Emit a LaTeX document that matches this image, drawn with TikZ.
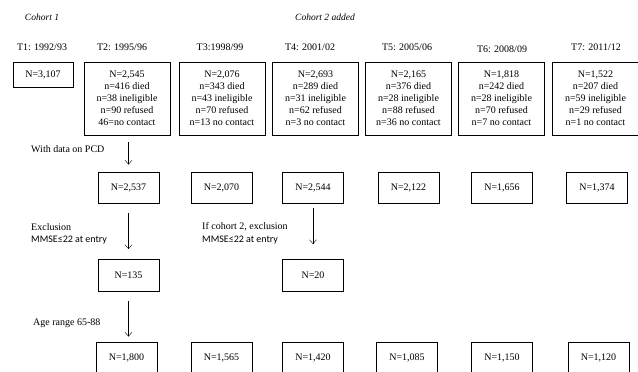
\documentclass[tikz,border=0pt]{standalone}
\usepackage{fontspec}
\setmainfont{Liberation Serif}
\newfontfamily\calibri{Carlito}
\usetikzlibrary{arrows.meta, positioning}
\tikzset{
    -{Straight Barb[length=4pt,width=7pt]}, line width=0.6pt,
    box/.style ={rectangle, draw, line width=0.9pt, minimum width=61pt, minimum height=31pt},
    bigbox/.style ={rectangle, draw, line width=0.9pt, align=center, minimum width=86pt, minimum height=73pt},
    note/.style = {anchor=west, inner sep=0pt, align=left},
    cohort/.style = {inner sep=0pt, font=\itshape\fontsize{9.5}{11}\selectfont}
    }

\begin{document}
\begin{tikzpicture}[
      x = 1pt, y = -1pt, % pixel grid, y down
      every node/.append style = {font=\fontsize{10}{12}\selectfont}
    ]
    \clip (0,0) rectangle (638,372);

    \node[cohort] at (42,17) {Cohort 1};
    \node[cohort] at (325,17) {Cohort 2 added};

    % time points
    \node[inner sep=0pt] at (42,47) {T1: 1992/93};
    \node[inner sep=0pt] at (122,47) {T2: 1995/96};
    \node[inner sep=0pt] at (220,47) {T3:1998/99};
    \node[inner sep=0pt] at (310,47) {T4: 2001/02};
    \node[inner sep=0pt] at (407,47) {T5: 2005/06};
    \node[inner sep=0pt] at (502,49) {T6: 2008/09};
    \node[inner sep=0pt] at (596,47) {T7: 2011/12};

    % follow-up
    \node[box, minimum width=60pt, minimum height=25pt] (1) at (43,74.5) {N=3,107};
    \node[bigbox] (2) at (127,98.5) {N=2,545\\n=416 died\\n=38 ineligible\\n=90 refused\\46=no contact};
    \node[bigbox] (3) at (222,98.5) {N=2,076\\n=343 died\\n=43 ineligible\\n=70 refused\\n=13 no contact};
    \node[bigbox] (4) at (315.5,98.5) {N=2,693\\n=289 died\\n=31 ineligible\\n=62 refused\\n=3 no contact};
    \node[bigbox] (5) at (408.5,98.5) {N=2,165\\n=376 died\\n=28 ineligible\\n=88 refused\\n=36 no contact};
    \node[bigbox] (6) at (501.5,98.5) {N=1,818\\n=242 died\\n=28 ineligible\\n=70 refused\\n=7 no contact};
    \node[bigbox] (7) at (595.5,98.5) {N=1,522\\n=207 died\\n=59 ineligible\\n=29 refused\\n=1 no contact};

    % with data on PCD
    \node[note] at (31,149) {With data on PCD};
    \node[box] (8) at (128.5,187.5) {N=2,537};
    \node[box] (9) at (221.5,187.5) {N=2,070};
    \node[box] (10) at (313,187.5) {N=2,544};
    \node[box] (11) at (408.5,187.5) {N=2,122};
    \node[box] (12) at (502,187.5) {N=1,656};
    \node[box] (13) at (597,187.5) {N=1,374};

    % exclusion
    \node[note] at (31,227) {Exclusion};
    \node[note] at (31,240) {\calibri MMSE≤22 at entry};
    \node[note] at (202,227) {If cohort 2, exclusion};
    \node[note] at (202,240) {\calibri MMSE≤22 at entry};
    \node[box, minimum height=32pt] (14) at (128.5,275.5) {N=135};
    \node[box, minimum height=32pt] (15) at (313,275.5) {N=20};

    % age range
    \node[note] at (33,323) {Age range 65-88};
    \node[box, minimum height=32pt] (16) at (126.5,358) {N=1,800};
    \node[box, minimum height=32pt] (17) at (221.5,358) {N=1,565};
    \node[box, minimum height=32pt] (18) at (313,358) {N=1,420};
    \node[box, minimum height=32pt] (19) at (407,358) {N=1,085};
    \node[box, minimum height=32pt] (20) at (502,358) {N=1,150};
    \node[box, minimum height=32pt] (21) at (598.5,358) {N=1,120};

    \path (8 |- 2.south) edge[shorten <=7pt, shorten >=7pt] (8.north);
    \path (8.south) edge[shorten <=10pt, shorten >=10pt] (14.north -| 8);
    \path (14.south) edge[shorten <=9pt, shorten >=5pt] (14 |- 16.north);
    \path (10.south) edge[shorten <=5pt, shorten >=15pt] (15.north -| 10);

\end{tikzpicture}
\end{document}
